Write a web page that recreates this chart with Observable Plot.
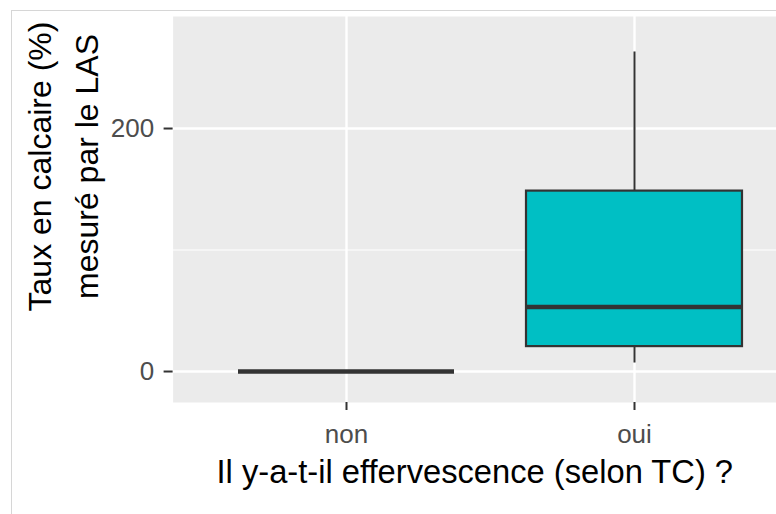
<!DOCTYPE html>
<html>
<head>
<meta charset="utf-8">
<script src="https://cdn.jsdelivr.net/npm/d3@7"></script>
<script src="https://cdn.jsdelivr.net/npm/@observablehq/plot@0.6"></script>
<style>
  html, body { margin: 0; padding: 0; background: #fff; overflow: hidden; }
  #wrap { position: relative; width: 776px; height: 514px; }
  #border { position: absolute; left: 11px; top: 10px; right: 0; bottom: 0;
            border-left: 1px solid #d6d6d6; border-top: 1px solid #d6d6d6; pointer-events: none; }
</style>
</head>
<body>
<div id="wrap"><div id="border"></div></div>
<script>
// Data
const categories = ["non", "oui"];
const lowerWhisker = [0, 7];
const q1 = [0, 20.5];
const median = [0, 53];
const q3 = [0, 148.5];
const upperWhisker = [0, 263];
const yTicks = [0, 200];
const yMinor = [100];
const yDomain = [-25.5, 292.2];
const xTitle = "Il y-a-t-il effervescence (selon TC) ?";
const yTitle1 = "Taux en calcaire (%)";
const yTitle2 = "mesuré par le LAS";

const boxes = categories.map((c, i) => ({
  cat: c, lo: lowerWhisker[i], q1: q1[i], med: median[i], q3: q3[i], hi: upperWhisker[i]
}));
const withBox = boxes.filter(d => d.q3 > d.q1);

const plot = Plot.plot({
  width: 776,
  height: 514,
  marginLeft: 172.6,
  marginTop: 16,
  marginBottom: 112,
  marginRight: 0,
  style: { fontFamily: "'Liberation Sans', Arial, sans-serif", background: "transparent" },
  x: { type: "band", domain: categories, range: [172.6, 808.4], paddingInner: 0.25, paddingOuter: 0.225 },
  y: { domain: yDomain },
  marks: [
    Plot.frame({ fill: "#EBEBEB", stroke: "none" }),
    Plot.ruleY(yMinor, { stroke: "white", strokeWidth: 1.2 }),
    Plot.ruleY(yTicks, { stroke: "white", strokeWidth: 2.4 }),
    Plot.ruleX(categories, { x: d => d, stroke: "white", strokeWidth: 2.4 }),
    Plot.axisY({ ticks: yTicks, tickSize: 9, tickPadding: 10, fontSize: 26, stroke: "#333333", strokeWidth: 2, fill: "#4D4D4D", label: null }),
    Plot.axisX({ tickSize: 8, tickPadding: 14, fontSize: 26, stroke: "#333333", strokeWidth: 2, fill: "#4D4D4D", label: null }),
    Plot.ruleX(boxes, { x: "cat", y1: "q3", y2: "hi", stroke: "#333333", strokeWidth: 2 }),
    Plot.ruleX(boxes, { x: "cat", y1: "lo", y2: "q1", stroke: "#333333", strokeWidth: 2 }),
    Plot.barY(withBox, { x: "cat", y1: "q1", y2: "q3", fill: "#00BFC4", stroke: "#333333", strokeWidth: 2.2 }),
    Plot.tickY(boxes, { x: "cat", y: "med", stroke: "#333333", strokeWidth: 4.5 }),
    Plot.text([yTitle1], { text: d => d, frameAnchor: "left", textAnchor: "middle", lineAnchor: "middle", rotate: -90, dx: 39.8 - 172.6, dy: -43, fontSize: 32, fill: "black" }),
    Plot.text([yTitle2], { text: d => d, frameAnchor: "left", textAnchor: "middle", lineAnchor: "middle", rotate: -90, dx: 86.8 - 172.6, dy: -43, fontSize: 32, fill: "black" }),
    Plot.text([xTitle], { text: d => d, frameAnchor: "bottom", lineAnchor: "middle", dy: 70, fontSize: 32.7, fill: "black" })
  ]
});
document.getElementById("wrap").prepend(plot);
</script>
</body>
</html>
